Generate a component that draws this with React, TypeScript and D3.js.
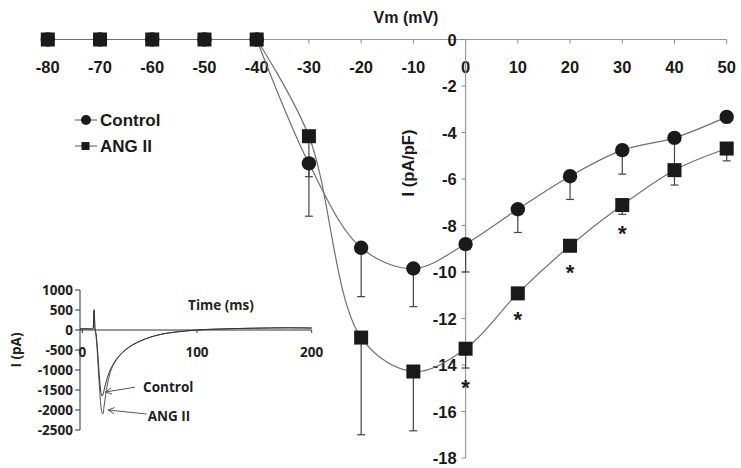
import React from "react";
import * as d3 from "d3";

// ---------- Main chart data ----------
const vm = [-80, -70, -60, -50, -40, -30, -20, -10, 0, 10, 20, 30, 40, 50];
const controlI = [0, 0, 0, 0, 0, -5.33, -8.96, -9.85, -8.8, -7.3, -5.88, -4.76, -4.23, -3.33];
const controlErr = [0, 0, 0, 0, 0, 2.27, 2.1, 1.64, 1.2, 1.0, 1.0, 1.03, 1.2, 0.25];
const angI = [0, 0, 0, 0, 0, -4.16, -12.82, -14.28, -13.3, -10.92, -8.87, -7.12, -5.62, -4.69];
const angErr = [0, 0, 0, 0, 0, 1.74, 4.18, 2.55, 0.83, 0.25, 0.25, 0.4, 0.64, 0.53];
const sigVm = [0, 10, 20, 30];
const xTicks = [-80, -70, -60, -50, -40, -30, -20, -10, 0, 10, 20, 30, 40, 50];
const yTicks = [0, -2, -4, -6, -8, -10, -12, -14, -16, -18];

// ---------- Inset data ----------
const tTrace = [-2, 5, 8, 9.5, 10.3, 11, 12, 13, 14, 15, 16, 17, 18, 19, 20, 22, 24, 27, 30, 35, 40, 50, 60, 70, 80, 90, 100, 120, 150, 180, 200];
const controlTrace = [30, 30, 25, 40, 510, 60, -100, -400, -800, -1200, -1500, -1650, -1620, -1500, -1380, -1180, -1020, -850, -720, -560, -440, -280, -170, -100, -55, -25, 0, 25, 45, 55, 50];
const angTrace = [30, 30, 25, 40, 480, 60, -150, -500, -1000, -1450, -1850, -2050, -2100, -1900, -1700, -1350, -1100, -880, -740, -570, -450, -285, -175, -100, -55, -25, 0, 25, 45, 55, 50];
const insetYTicks = [1000, 500, 0, -500, -1000, -1500, -2000, -2500];
const insetXTicks = [0, 100, 200];

const FONT = "'Liberation Sans', Arial, sans-serif";
const IFONT = "'Open Sans', 'Liberation Sans', sans-serif";
const INK = "#1a1a1a";
const LINE = "#707070";

export default function App() {
  const W = 741, H = 468;
  const x = d3.scaleLinear().domain([-80, 50]).range([47.8, 726.7]);
  const y = d3.scaleLinear().domain([0, -18]).range([39.5, 458]);

  const smooth = d3
    .line<[number, number]>()
    .x((d) => x(d[0]))
    .y((d) => y(d[1]))
    .curve(d3.curveCatmullRom.alpha(0.5));
  const straight = d3
    .line<[number, number]>()
    .x((d) => x(d[0]))
    .y((d) => y(d[1]));

  const ctrlPts = vm.map((v, i) => [v, controlI[i]] as [number, number]);
  const angPts = vm.map((v, i) => [v, angI[i]] as [number, number]);
  const flatEnd = vm.indexOf(-40);

  // inset scales
  const ix = d3.scaleLinear().domain([0, 200]).range([82.3, 311.7]);
  const iy = d3.scaleLinear().domain([1000, -2500]).range([290, 430]);
  const trace = d3
    .line<[number, number]>()
    .x((d) => ix(d[0]))
    .y((d) => iy(d[1]))
    .curve(d3.curveMonotoneX);
  const ctrlTr = tTrace.map((t, i) => [t, controlTrace[i]] as [number, number]);
  const angTr = tTrace.map((t, i) => [t, angTrace[i]] as [number, number]);
  const axisX = ix(-2);

  const arrow = (tail: [number, number], tip: [number, number]) => {
    const x1 = ix(tail[0]), y1 = iy(tail[1]), x2 = ix(tip[0]), y2 = iy(tip[1]);
    const ang = Math.atan2(y1 - y2, x1 - x2);
    const L = 7, a = 0.45;
    const p1 = [x2 + L * Math.cos(ang + a), y2 + L * Math.sin(ang + a)];
    const p2 = [x2 + L * Math.cos(ang - a), y2 + L * Math.sin(ang - a)];
    return (
      <g stroke="#555" strokeWidth={1} fill="none">
        <line x1={x1} y1={y1} x2={x2} y2={y2} />
        <polyline points={`${p1[0]},${p1[1]} ${x2},${y2} ${p2[0]},${p2[1]}`} />
      </g>
    );
  };

  return (
    <svg width={W} height={H} style={{ position: "absolute", left: 0, top: 0, background: "#fff" }}>
      {/* X axis (top) */}
      <line x1={x(-80) - 4} x2={x(50)} y1={y(0)} y2={y(0)} stroke="#999" strokeWidth={1.2} />
      {xTicks.map((t) => (
        <g key={"xt" + t}>
          <line x1={x(t)} x2={x(t)} y1={y(0)} y2={y(0) + 4} stroke="#888" />
          <text x={x(t)} y={y(0) + 33} textAnchor="middle" fontFamily={FONT} fontWeight="bold" fontSize={16.5} fill={INK}>
            {t}
          </text>
        </g>
      ))}
      <text x={406} y={23} textAnchor="middle" fontFamily={FONT} fontWeight="bold" fontSize={16} fill={INK}>
        Vm (mV)
      </text>

      {/* Y axis */}
      <line x1={x(0)} x2={x(0)} y1={y(0)} y2={y(-18)} stroke="#999" strokeWidth={1.2} />
      {yTicks.map((t) => (
        <g key={"yt" + t}>
          <line x1={x(0) - 4} x2={x(0)} y1={y(t)} y2={y(t)} stroke="#888" />
          <text x={x(0) - 9} y={y(t) + 6} textAnchor="end" fontFamily={FONT} fontWeight="bold" fontSize={16.5} fill={INK}>
            {t}
          </text>
        </g>
      ))}
      <text
        transform={`translate(414,163) rotate(-90)`}
        textAnchor="middle"
        fontFamily={FONT}
        fontWeight="bold"
        fontSize={16.5}
        fill={INK}
      >
        I (pA/pF)
      </text>

      {/* Lines */}
      <path d={straight(ctrlPts.slice(0, flatEnd + 1)) || ""} fill="none" stroke={LINE} strokeWidth={1.2} />
      <path d={straight(angPts.slice(0, flatEnd + 1)) || ""} fill="none" stroke={LINE} strokeWidth={1.2} />
      <path d={smooth(ctrlPts.slice(flatEnd)) || ""} fill="none" stroke={LINE} strokeWidth={1.2} />
      <path d={smooth(angPts.slice(flatEnd)) || ""} fill="none" stroke={LINE} strokeWidth={1.2} />

      {/* Error bars */}
      {vm.map((v, i) =>
        controlErr[i] > 0 ? (
          <g key={"ce" + v} stroke="#444" strokeWidth={1.2}>
            <line x1={x(v)} x2={x(v)} y1={y(controlI[i])} y2={y(controlI[i] - controlErr[i])} />
            <line x1={x(v) - 4} x2={x(v) + 4} y1={y(controlI[i] - controlErr[i])} y2={y(controlI[i] - controlErr[i])} />
          </g>
        ) : null
      )}
      {vm.map((v, i) =>
        angErr[i] > 0 ? (
          <g key={"ae" + v} stroke="#444" strokeWidth={1.2}>
            <line x1={x(v)} x2={x(v)} y1={y(angI[i])} y2={y(angI[i] - angErr[i])} />
            <line x1={x(v) - 4} x2={x(v) + 4} y1={y(angI[i] - angErr[i])} y2={y(angI[i] - angErr[i])} />
          </g>
        ) : null
      )}

      {/* Markers */}
      {vm.map((v, i) => (
        <circle key={"cm" + v} cx={x(v)} cy={y(controlI[i])} r={7.2} fill={INK} />
      ))}
      {vm.map((v, i) => (
        <rect key={"am" + v} x={x(v) - 7} y={y(angI[i]) - 7} width={14} height={14} fill={INK} />
      ))}

      {/* Significance asterisks */}
      {sigVm.map((v) => {
        const i = vm.indexOf(v);
        const cy = Math.max(y(angI[i]) + 7, y(angI[i] - angErr[i])) + 14;
        return (
          <text key={"s" + v} x={x(v)} y={cy + 13} textAnchor="middle" fontFamily={FONT} fontWeight="bold" fontSize={22} fill={INK}>
            *
          </text>
        );
      })}

      {/* Legend */}
      <line x1={75} x2={97} y1={120} y2={120} stroke={LINE} strokeWidth={1.2} />
      <circle cx={86} cy={120} r={5} fill={INK} />
      <text x={100} y={126} fontFamily={FONT} fontWeight="bold" fontSize={17} fill={INK}>
        Control
      </text>
      <line x1={75} x2={97} y1={146} y2={146} stroke={LINE} strokeWidth={1.2} />
      <rect x={81.5} y={142} width={8} height={8} fill={INK} />
      <text x={100} y={152} fontFamily={FONT} fontWeight="bold" fontSize={17} fill={INK}>
        ANG II
      </text>

      {/* Inset */}
      <line x1={axisX} x2={axisX} y1={iy(1000)} y2={iy(-2500)} stroke="#333" strokeWidth={1} />
      {insetYTicks.map((t) => (
        <g key={"iy" + t}>
          <line x1={axisX - 5} x2={axisX} y1={iy(t)} y2={iy(t)} stroke="#333" />
          <text x={axisX - 7} y={iy(t) + 5} textAnchor="end" fontFamily={IFONT} fontWeight="bold" fontSize={13.5} fill="#222">
            {t}
          </text>
        </g>
      ))}
      <line x1={axisX} x2={ix(200)} y1={iy(0)} y2={iy(0)} stroke="#333" strokeWidth={1} />
      {insetXTicks.map((t) => (
        <g key={"ix" + t}>
          <line x1={ix(t)} x2={ix(t)} y1={iy(0)} y2={iy(0) + 3} stroke="#333" />
          <text x={ix(t)} y={iy(0) + 27} textAnchor="middle" fontFamily={IFONT} fontWeight="bold" fontSize={13.5} fill="#222">
            {t}
          </text>
        </g>
      ))}
      <text x={221} y={310} textAnchor="middle" fontFamily={IFONT} fontWeight="bold" fontSize={13.5} fill="#222">
        Time (ms)
      </text>
      <text transform={`translate(21,350) rotate(-90)`} textAnchor="middle" fontFamily={IFONT} fontWeight="bold" fontSize={13.5} fill="#222">
        I (pA)
      </text>
      <path d={trace(angTr) || ""} fill="none" stroke="#555" strokeWidth={1} />
      <path d={trace(ctrlTr) || ""} fill="none" stroke="#333" strokeWidth={1} />
      {arrow([46, -1430], [20, -1550])}
      {arrow([56, -2100], [22.4, -2000])}
      <text x={ix(53)} y={iy(-1425) + 5} fontFamily={IFONT} fontWeight="bold" fontSize={13.5} fill="#222">
        Control
      </text>
      <text x={ix(57)} y={iy(-2150) + 5} fontFamily={IFONT} fontWeight="bold" fontSize={13.5} fill="#222">
        ANG II
      </text>
    </svg>
  );
}
